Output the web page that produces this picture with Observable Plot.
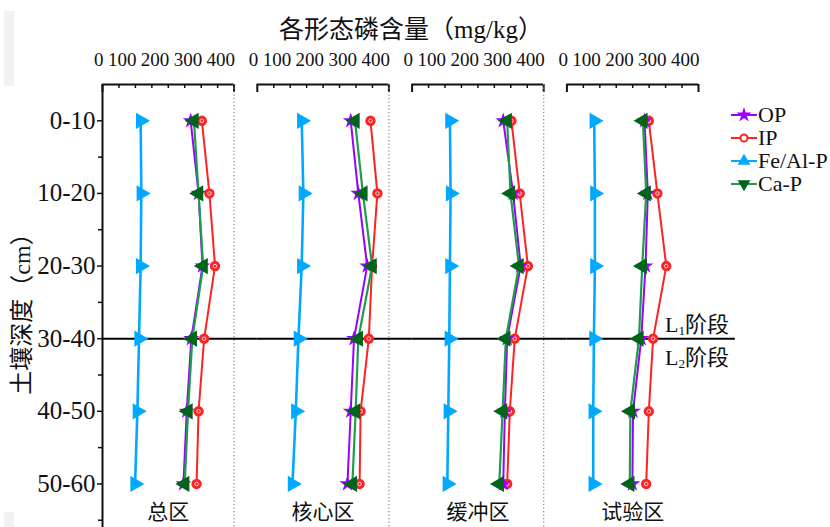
<!DOCTYPE html>
<html><head><meta charset="utf-8">
<script src="https://cdn.jsdelivr.net/npm/d3@7"></script>
<script src="https://cdn.jsdelivr.net/npm/@observablehq/plot@0.6"></script>
<style>
html,body{margin:0;padding:0;overflow:hidden;background:#fff;}
#wrap{position:relative;width:830px;height:527px;overflow:hidden;font-family:"Liberation Serif","Noto Sans CJK SC",serif;color:#111;}
#wrap svg.chart{position:absolute;left:0;top:0;}
.title{position:absolute;left:411px;top:15px;transform:translateX(-50%);font-size:25px;line-height:30px;white-space:nowrap;}
.ytitle{position:absolute;left:22px;top:308px;transform:translate(-50%,-50%) rotate(-90deg);font-size:24px;line-height:28px;white-space:nowrap;}
.legend{position:absolute;left:731px;top:103px;}
.legend .row{display:flex;align-items:center;height:23px;font-size:22px;}
.legend svg{display:block;margin-right:1px;}
.stage{position:absolute;left:665px;font-size:22px;line-height:26px;white-space:nowrap;}
.stage sub{font-size:0.6em;vertical-align:-0.2em;line-height:0;}
.grey{position:absolute;background:#f2f2f2;}
</style></head><body><div id="wrap"></div>
<script>
// ---- data ----
const regions = ["总区", "核心区", "缓冲区", "试验区"];
const depths = ["0-10", "10-20", "20-30", "30-40", "40-50", "50-60"];
const seriesNames = ["OP", "IP", "Fe/Al-P", "Ca-P"];
const xTickLabels = [0, 100, 200, 300, 400];
const xMinorTicks = [0, 50, 100, 150, 200, 250, 300, 350, 400];
// values per region (总区, 核心区, 缓冲区, 试验区), per depth
const OP = [
  [268, 292, 304, 270, 256, 246],
  [284, 307, 334, 294, 284, 274],
  [277, 307, 330, 289, 282, 277],
  [236, 246, 239, 226, 201, 199]
];
const IP = [
  [302, 325, 342, 309, 292, 286],
  [344, 365, 349, 339, 314, 311],
  [302, 327, 352, 312, 297, 289],
  [249, 275, 302, 262, 249, 241]
];
const FeAlP = [
  [116, 118, 116, 111, 106, 99],
  [135, 140, 135, 125, 117, 107],
  [115, 117, 115, 113, 110, 107],
  [83, 85, 85, 82, 80, 80]
];
const CaP = [
  [278, 292, 306, 273, 260, 250],
  [297, 321, 349, 307, 299, 289],
  [289, 299, 325, 285, 275, 265],
  [231, 241, 229, 219, 193, 191]
];
const stageDepth = "30-40";
const stageLabels = ["L", "阶段"];

// ---- build table ----
const seriesValues = {"OP": OP, "IP": IP, "Fe/Al-P": FeAlP, "Ca-P": CaP};
const rows = [];
for (const s of seriesNames) regions.forEach((r, ri) => depths.forEach((d, di) => rows.push({series: s, region: r, depth: d, value: seriesValues[s][ri][di]})));
const yi = d => depths.indexOf(d.depth);

// ---- symbols ----
const triRight = {draw(ctx, size) { const y = -Math.sqrt(size / (Math.sqrt(3) * 3)), s3 = Math.sqrt(3);
  ctx.moveTo(-2 * y, 0); ctx.lineTo(y, -s3 * y); ctx.lineTo(y, s3 * y); ctx.closePath(); }};
const triLeft = {draw(ctx, size) { const y = -Math.sqrt(size / (Math.sqrt(3) * 3)), s3 = Math.sqrt(3);
  ctx.moveTo(2 * y, 0); ctx.lineTo(-y, -s3 * y); ctx.lineTo(-y, s3 * y); ctx.closePath(); }};

const styles = {
  "OP": {line: "#9a00ff", fill: "#9a00ff", symbol: d3.symbolStar, r: 5, lw: 2},
  "IP": {line: "#ff2222", fill: "#ff2222", symbol: "circle", r: 5.2, lw: 2},
  "Fe/Al-P": {line: "#00a8ff", fill: "#00a8ff", symbol: triRight, r: 6, lw: 2.6},
  "Ca-P": {line: "#1c9e4c", fill: "#00641a", symbol: triLeft, r: 6, lw: 2.2}
};

// ---- layout ----
const width = 830, height = 527;
const mL = 102, mR = 132, mT = 84, mB = 0;
const padInner = 0.15;
const frameH = height - mT - mB;
const gapValue = 400 * padInner / (1 - padInner);
const lastExtent = 512;
const yDomain = [-0.5, 5.6];

const dividerData = regions.map((r, i) => ({region: r, x2: i < regions.length - 1 ? 400 + gapValue : lastExtent}));

const seriesMarks = [];
for (const s of ["Fe/Al-P", "IP", "OP", "Ca-P"]) {
  const st = styles[s];
  const sub = rows.filter(d => d.series === s);
  seriesMarks.push(Plot.line(sub, {fx: "region", x: "value", y: yi, z: "region", stroke: st.line, strokeWidth: st.lw}));
  seriesMarks.push(Plot.dot(sub, {fx: "region", x: "value", y: yi, symbol: st.symbol, r: st.r, fill: st.fill, stroke: "none"}));
  if (s === "IP") seriesMarks.push(Plot.dot(sub, {fx: "region", x: "value", y: yi, r: 1.8, fill: "none", stroke: "#fff", strokeWidth: 0.8}));
}

const chart = Plot.plot({
  width, height, marginLeft: mL, marginRight: mR, marginTop: mT, marginBottom: mB,
  style: {fontFamily: '"Liberation Serif","Noto Sans CJK SC",serif', background: "transparent", color: "#111", overflow: "visible"},
  fx: {domain: regions, paddingInner: padInner, paddingOuter: 0, round: false, axis: null, label: null},
  x: {domain: [0, 400], label: null},
  y: {domain: yDomain, reverse: true, label: null},
  marks: [
    // frame top bar
    Plot.ruleY([yDomain[0]], {stroke: "#111", strokeWidth: 2}),
    Plot.tickX(xMinorTicks.slice(1, -1), {x: d => d, insetBottom: frameH - 4, stroke: "#111", strokeWidth: 1.5}),
    Plot.tickX([xMinorTicks[xMinorTicks.length - 1]], {x: d => d, insetBottom: frameH - 8, stroke: "#111", strokeWidth: 2}),
    Plot.tickX([xMinorTicks[0]], {x: d => d, insetBottom: frameH - 8, stroke: "#111", strokeWidth: 2}),
    // dotted right borders
    Plot.ruleX(regions.slice(0, 3), {fx: d => d, x: () => 400, stroke: "#8a8a8a", strokeWidth: 1.2, strokeDasharray: "1.3,2.2"}),
    // left axis line
    Plot.ruleX([regions[0]], {fx: d => d, x: () => 0, stroke: "#111", strokeWidth: 2}),
    Plot.axisX({anchor: "top", ticks: xTickLabels, tickSize: 0, tickPadding: 19, textAnchor: "end", dx: 1, fontSize: 19, fill: "#111"}),
    Plot.axisY({ticks: d3.range(depths.length), tickFormat: i => depths[i], tickSize: 5, tickPadding: 2, fontSize: 25, fill: "#111", stroke: "#111", strokeWidth: 1.5}),
    Plot.axisY({ticks: d3.range(depths.length).map(i => i + 0.5), tickFormat: () => "", tickSize: 4, stroke: "#111", strokeWidth: 1.5}),
    // stage divider
    Plot.ruleY(dividerData, {fx: "region", y: () => depths.indexOf(stageDepth), x1: () => 0, x2: "x2", stroke: "#000", strokeWidth: 2}),
    ...seriesMarks,
    // region labels
    Plot.text(regions, {fx: d => d, text: d => d, frameAnchor: "bottom", lineAnchor: "bottom", dy: -9, fontSize: 21, fill: "#111"})
  ]
});
chart.classList.add("chart");

const wrap = document.getElementById("wrap");
wrap.appendChild(chart);

function addDiv(cls, html, css) { const e = document.createElement("div"); e.className = cls; e.innerHTML = html; if (css) Object.assign(e.style, css); wrap.appendChild(e); return e; }
addDiv("grey", "", {left: "4px", top: "11px", width: "10px", height: "75px"});
addDiv("grey", "", {left: "4px", top: "512px", width: "10px", height: "15px"});
addDiv("title", "各形态磷含量（mg/kg）");
addDiv("ytitle", "土壤深度（cm）");
addDiv("stage", `${stageLabels[0]}<sub>1</sub>${stageLabels[1]}`, {top: "312px"});
addDiv("stage", `${stageLabels[0]}<sub>2</sub>${stageLabels[1]}`, {top: "345px"});

// legend
const legendSym = {"OP": d3.symbolStar, "IP": d3.symbolCircle, "Fe/Al-P": d3.symbolTriangle, "Ca-P": d3.symbolTriangle};
const leg = addDiv("legend", "");
for (const s of seriesNames) {
  const st = styles[s];
  const row = document.createElement("div"); row.className = "row";
  const size = s === "IP" ? 40 : 70;
  const path = d3.symbol().type(legendSym[s]).size(size)();
  const rot = s === "Ca-P" ? "rotate(180)" : "";
  const fill = s === "IP" ? "#fff" : st.fill;
  const stroke = s === "IP" ? st.line : "none";
  row.innerHTML = `<svg width="26" height="16"><line x1="0" x2="26" y1="8" y2="8" stroke="${st.line}" stroke-width="2"/><path d="${path}" transform="translate(13,8) ${rot}" fill="${fill}" stroke="${stroke}" stroke-width="2"/></svg><span>${s}</span>`;
  leg.appendChild(row);
}
</script></body></html>
